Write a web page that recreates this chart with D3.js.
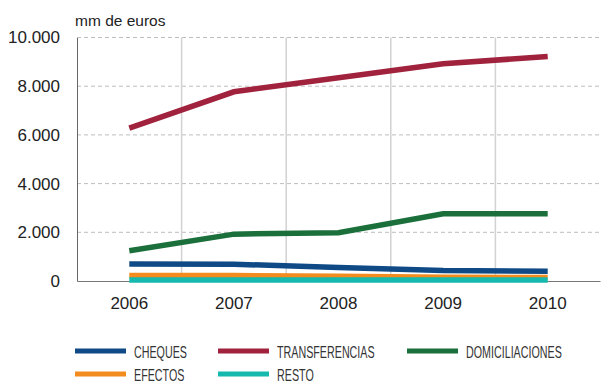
<!DOCTYPE html>
<html>
<head>
<meta charset="utf-8">
<script src="https://cdn.jsdelivr.net/npm/d3@7"></script>
<style>
  html, body { margin: 0; padding: 0; background: #fff; }
  svg { display: block; }
</style>
</head>
<body>
<svg id="chart" width="603" height="381"></svg>
<script>
// Payment instruments, millions of euros
const years = ["2006", "2007", "2008", "2009", "2010"];
const cheques = [700, 690, 555, 430, 405];
const transferencias = [6280, 7770, 8350, 8920, 9220];
const domiciliaciones = [1240, 1925, 1985, 2760, 2760];
const efectos = [230, 225, 190, 150, 140];
const resto = [45, 45, 45, 45, 45];
const yTicks = [0, 2000, 4000, 6000, 8000, 10000];

const series = [
  { name: "CHEQUES", values: cheques, color: "#0f4a86" },
  { name: "TRANSFERENCIAS", values: transferencias, color: "#a0223d" },
  { name: "DOMICILIACIONES", values: domiciliaciones, color: "#1a6f3a" },
  { name: "EFECTOS", values: efectos, color: "#f28c1f" },
  { name: "RESTO", values: resto, color: "#16b9ad" }
];

const svg = d3.select("#chart");
const plotLeft = 77, plotRight = 600, plotTop = 37.5, plotBottom = 281;
const font = "Liberation Sans, Arial, Helvetica, sans-serif";

const x = d3.scaleBand().domain(years).range([plotLeft, plotRight]);
const y = d3.scaleLinear().domain([0, 10000]).range([plotBottom, plotTop]);
const fmt = d3.format(",.0f");
const label = v => fmt(v).replace(/,/g, ".");

// horizontal dashed grid
svg.append("g").selectAll("line")
  .data(yTicks.filter(d => d > 0))
  .join("line")
  .attr("x1", plotLeft).attr("x2", plotRight)
  .attr("y1", d => y(d)).attr("y2", d => y(d))
  .attr("stroke", "#bdbdbd").attr("stroke-width", 1)
  .attr("stroke-dasharray", "4,3");

// vertical separators between years
svg.append("g").selectAll("line")
  .data(years.slice(1))
  .join("line")
  .attr("x1", d => x(d)).attr("x2", d => x(d))
  .attr("y1", plotTop).attr("y2", plotBottom)
  .attr("stroke", "#d2d2d2").attr("stroke-width", 1.5);

// axes
const yAxis = svg.append("g")
  .attr("transform", `translate(${plotLeft},0)`)
  .call(d3.axisLeft(y).tickValues(yTicks).tickFormat(label).tickSize(0).tickPadding(17));
yAxis.select(".domain").attr("stroke", "#666").attr("stroke-width", 1);
yAxis.selectAll("text")
  .attr("font-family", font)
  .attr("font-size", 17).attr("fill", "#222");

const xAxis = svg.append("g")
  .attr("transform", `translate(0,${plotBottom})`)
  .call(d3.axisBottom(x).tickSize(0).tickPadding(16));
xAxis.select(".domain").attr("stroke", "#777").attr("stroke-width", 1.2);
xAxis.selectAll("text")
  .attr("font-family", font)
  .attr("font-size", 17).attr("fill", "#222");

svg.append("text")
  .attr("x", 75).attr("y", 26)
  .attr("font-family", font)
  .attr("font-size", 15.5).attr("fill", "#222")
  .text("mm de euros");

// series lines
const line = d3.line()
  .x((d, i) => x(years[i]) + x.bandwidth() / 2)
  .y(d => y(d));

svg.append("g").selectAll("path")
  .data(series)
  .join("path")
  .attr("d", d => line(d.values))
  .attr("fill", "none")
  .attr("stroke", d => d.color)
  .attr("stroke-width", 5.5);

// legend
const legendPos = [
  { x: 75, y: 351 }, { x: 218, y: 351 }, { x: 407, y: 351 },
  { x: 75, y: 374 }, { x: 218, y: 374 }
];
const lg = svg.append("g").selectAll("g")
  .data(series)
  .join("g")
  .attr("transform", (d, i) => `translate(${legendPos[i].x},${legendPos[i].y})`);
lg.append("line")
  .attr("x1", 0).attr("x2", 51)
  .attr("stroke", d => d.color).attr("stroke-width", 5);
lg.append("text")
  .attr("transform", "translate(59,6.5) scale(0.67,1)")
  .attr("font-family", font)
  .attr("font-size", 16).attr("fill", "#333")
  .text(d => d.name);
</script>
</body>
</html>
